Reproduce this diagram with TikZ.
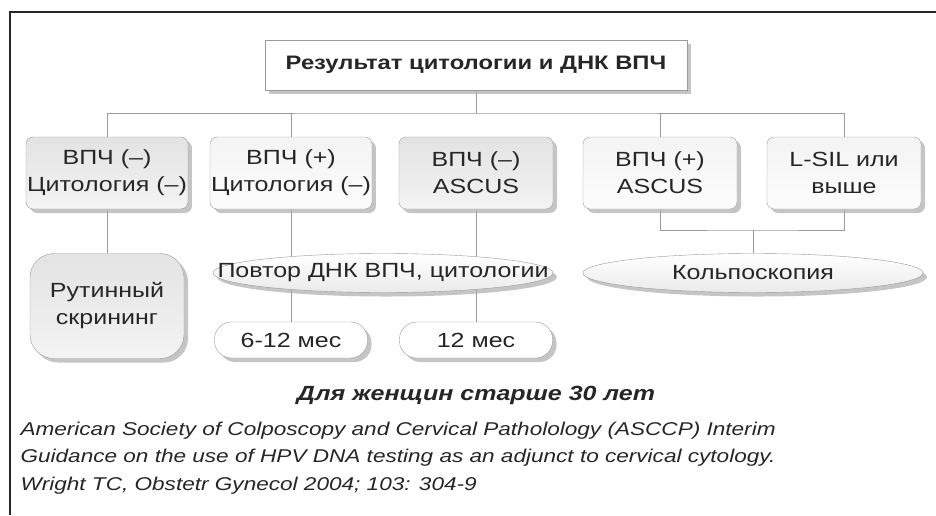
\documentclass[tikz,border=0pt]{standalone}
\usepackage{fontspec}
\setmainfont{Liberation Sans}[FakeStretch=1.22]
\usetikzlibrary{shapes.geometric,shadows,backgrounds}
\definecolor{Ink}{HTML}{262626}
\definecolor{Edge}{HTML}{9A9A9A}

\begin{document}
\begin{tikzpicture}[x=1pt,y=-1pt,
  boxshadow/.style={drop shadow={shadow xshift=4pt,shadow yshift=-4pt,fill=gray!60,opacity=.75}},
  headbox/.style={draw=Edge,fill=white,boxshadow,minimum width=422pt,minimum height=50pt,
   text=Ink,font=\fontsize{19.5}{22}\selectfont\bfseries},
  resbox/.style={draw=Edge,rounded corners=7pt,boxshadow,minimum width=154pt,minimum height=72pt,
   align=center,inner sep=1pt,text=Ink,font=\fontsize{20.5}{27}\selectfont},
  darkfill/.style={top color=gray!22,bottom color=gray!9},
  lightfill/.style={top color=gray!9,bottom color=gray!2},
  ovalbox/.style={ellipse,draw=Edge,top color=white,bottom color=gray!16,boxshadow,inner sep=0pt,
   minimum height=39pt,text=Ink,font=\fontsize{20.5}{24}\selectfont},
  pillbox/.style={draw=Edge,fill=white,rounded corners=17pt,boxshadow,minimum width=153pt,
   minimum height=36pt,text=Ink,font=\fontsize{20.5}{24}\selectfont},
  link/.style={draw=Edge,line width=.9pt}]
  \useasboundingbox (0,0) rectangle (936,515);
  \draw[line width=1.6pt,black!85] (10,515) -- (10,12) -- (936,12);
  % head and first row
  \node[headbox] (head) at (476,65) {Результат цитологии и ДНК ВПЧ};
  \node[resbox,darkfill] (negneg) at (107,173) {ВПЧ (–)\\Цитология (–)};
  \node[resbox,lightfill] (posneg) at (291,173) {ВПЧ (+)\\Цитология (–)};
  \node[resbox,darkfill] (negasc) at (476,173) {ВПЧ (–)\\ASCUS};
  \node[resbox,lightfill] (posasc) at (660,173) {ВПЧ (+)\\ASCUS};
  \node[resbox,lightfill] (lsil) at (844,173) {L-SIL или\\выше};
  % actions
  \node[resbox,darkfill,rounded corners=24pt,minimum height=105pt] (routine) at (107,306) {Рутинный\\скрининг};
  \node[ovalbox,minimum width=340pt] (repeat) at (383,273) {\makebox[0pt]{Повтор ДНК ВПЧ, цитологии}};
  \node[ovalbox,minimum width=340pt] (colpo) at (753,273) {\makebox[0pt]{Кольпоскопия}};
  \node[pillbox] (m612) at (291,340) {6-12 мес};
  \node[pillbox] (m12) at (476,340) {12 мес};
  % texts below
  \node[text=Ink,font=\fontsize{20.5}{24}\selectfont\bfseries\itshape] (note) at (476,395) {Для женщин старше 30 лет};
  \node[anchor=west,align=left,text=Ink,font=\fontsize{18.5}{27.5}\selectfont\itshape] (source) at (17,458)
    {American Society of Colposcopy and Cervical Patholology (ASCCP) Interim\\
     Guidance on the use of HPV DNA testing as an adjunct to cervical cytology.\\
     Wright TC, Obstetr Gynecol 2004; 103: 304-9};
  % connectors
  \begin{scope}[on background layer]
    \coordinate (bus) at (476,113);
    \coordinate (join) at (753,230);
    \draw[link] (head.south) -- (bus);
    \draw[link] (negneg.north) |- (bus) -| (lsil.north);
    \draw[link] (posneg.north) -- (posneg.north |- bus);
    \draw[link] (posasc.north) -- (posasc.north |- bus);
    \draw[link] (negneg.south) -- (routine.north);
    \draw[link] (posneg.south) -- (m612.north);
    \draw[link] (negasc.south) -- (m12.north);
    \draw[link] (posasc.south) |- (join) -| (lsil.south);
    \draw[link] (join) -- (colpo.north);
  \end{scope}
\end{tikzpicture}
\end{document}
